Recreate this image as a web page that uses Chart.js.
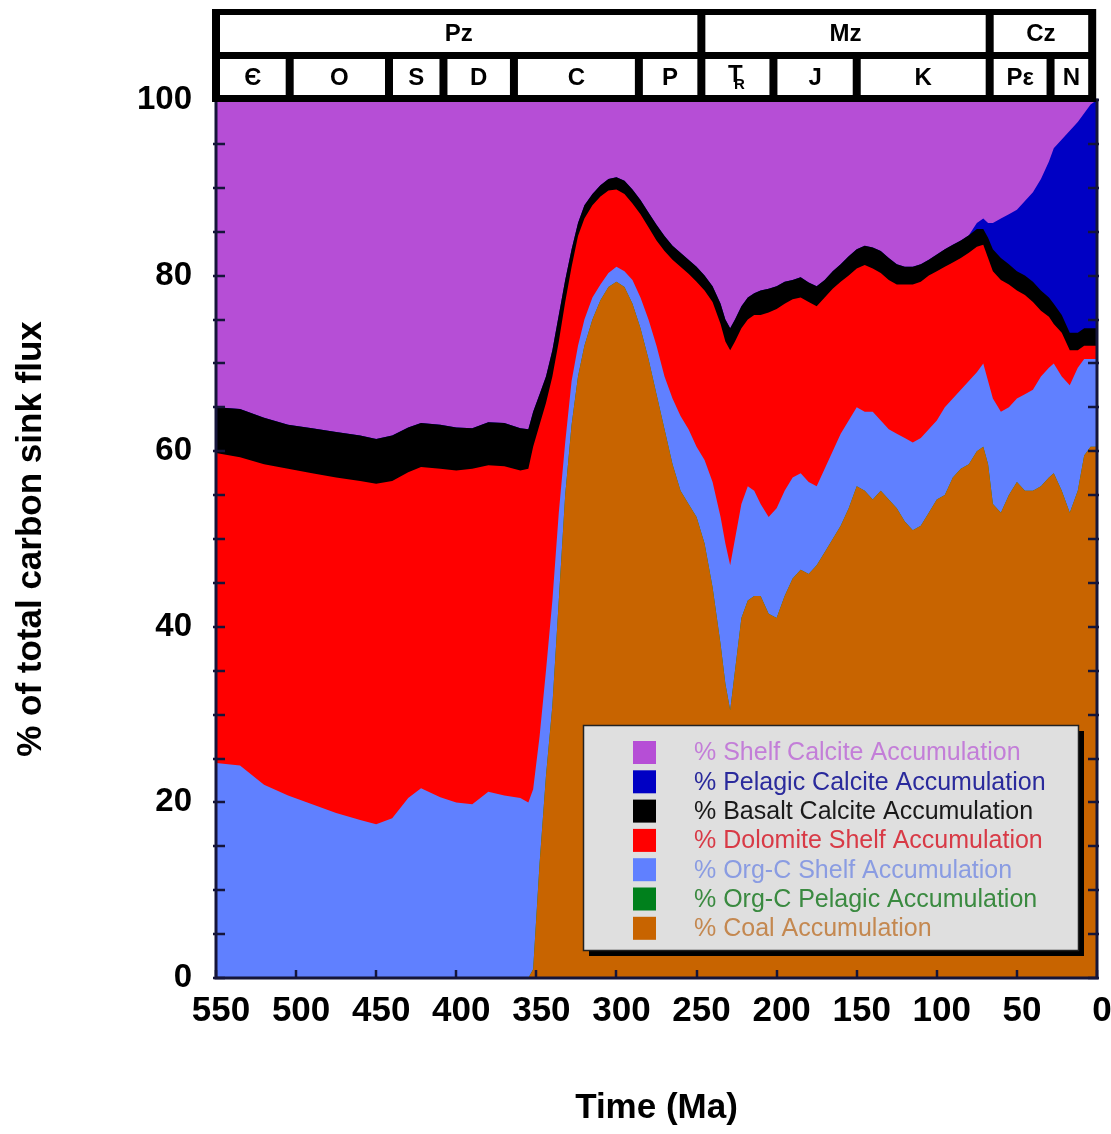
<!DOCTYPE html>
<html>
<head>
<meta charset="utf-8">
<title>Carbon sink flux</title>
<script src="https://cdn.jsdelivr.net/npm/chart.js@4"></script>
<style>
  html, body { margin: 0; padding: 0; background: #fff; }
</style>
</head>
<body>
<canvas id="sinkChart" width="1111" height="1134"></canvas>
<script>
// Time in Ma (old -> young)
const ages = [550, 535, 520, 505, 490, 475, 460, 450, 440, 430, 422, 410, 400, 390, 380, 370, 360, 355,
  352, 348, 344, 340, 336, 332, 328, 324, 320, 315, 310, 305, 300, 295, 290, 285, 280, 275, 270, 265,
  260, 255, 250, 245, 240, 235, 232, 229, 226, 222, 218, 214, 210, 205, 200, 195, 190, 185, 180, 175,
  170, 165, 160, 155, 150, 145, 140, 135, 130, 125, 120, 115, 110, 105, 100, 95, 90, 85, 80, 75, 71,
  68, 65, 60, 55, 50, 45, 40, 35, 30, 27, 22, 17, 12, 8, 4, 0];

// % of total carbon sink flux, per sink (stacked bottom -> top)
const coal = [0, 0, 0, 0, 0, 0, 0, 0, 0, 0, 0, 0, 0, 0, 0, 0, 0, 0,
  1, 13, 23, 31, 43, 55, 63, 68.5, 72, 75, 77.2, 78.7, 79.3, 78.7, 76.8, 74, 70.5, 66.5, 62.5, 58.5,
  55.5, 54, 52.5, 49.5, 44.5, 38, 33.5, 30.5, 35, 41, 43, 43.5, 43.5, 41.5, 41, 43.5, 45.5, 46.5, 46, 47,
  48.5, 50, 51.5, 53.5, 56, 55.5, 54.5, 55.5, 54.5, 53.5, 52, 51, 51.5, 53, 54.5, 55, 57, 58, 58.5, 60, 60.5,
  58.5, 54, 53, 55, 56.5, 55.5, 55.5, 56, 57, 57.5, 55.5, 53, 55.5, 59.5, 60.5, 60.5];

const orgCPelagic = ages.map(() => 0);

const orgCShelf = [24.5, 24.2, 22.0, 20.8, 19.8, 18.8, 18.0, 17.5, 18.2, 20.5, 21.6, 20.6, 20.0, 19.8, 21.2, 20.8, 20.5, 20.0,
  20.5, 14.5, 12, 12, 10, 6, 5, 3.5, 3, 2.5, 1.8, 1.6, 1.7, 1.8, 2.7, 3.5, 4.5, 5.5, 6, 7.5,
  8.5, 8.5, 8, 9.5, 12, 14.5, 16, 16.5, 15, 13, 13, 12, 10.5, 11, 12.5, 12, 11.5, 11, 10.5, 9,
  9.5, 10, 10.5, 10, 9, 9, 10, 8, 8, 8.5, 9.5, 10, 10, 9.5, 9, 10, 9, 9, 9.5, 9, 9.5,
  9.5, 12, 11.5, 10, 9.5, 11, 11.5, 12.5, 12.5, 12.5, 13, 14.5, 14, 11, 10, 10];

const dolomiteShelf = [35.3, 35.1, 36.5, 37.2, 37.7, 38.2, 38.6, 38.8, 38.4, 37.1, 36.6, 37.4, 37.8, 38.2, 37.2, 37.5, 37.3, 38.0,
  39.0, 35.5, 30.5, 25.5, 19.5, 16, 13, 12.5, 11.5, 10.5, 10, 9.4, 8.8, 8.8, 8.7, 9.5, 10.5, 12, 14.3, 15.8,
  17, 17.7, 18.8, 19.3, 20.5, 22, 23, 24.5, 22.5, 20, 19, 20, 21.5, 23.3, 22.7, 21.3, 20.3, 20, 20.5, 20.5,
  19.5, 18.5, 17.3, 16.5, 15.8, 16.7, 16.3, 16.8, 17, 17, 17.5, 18, 17.8, 17.5, 17, 16, 15.5, 15, 14.6, 14.3, 13.5,
  14, 14.5, 15, 14, 12.3, 11.3, 10, 7.5, 5.8, 4.5, 5, 4, 2, 1.5, 1.5, 1.5];

const basaltCalcite = [5.2, 5.5, 5.3, 5.0, 5.1, 5.2, 5.2, 5.1, 5.2, 5.1, 5.0, 5.0, 4.9, 4.6, 4.9, 4.9, 4.8, 4.5,
  4.0, 3.5, 3.0, 3.0, 3.0, 2.5, 2, 1.5, 1.5, 1.3, 1.3, 1.3, 1.4, 1.5, 1.6, 1.6, 1.7, 1.8, 1.7, 1.6,
  1.6, 1.6, 1.7, 1.7, 1.8, 2.3, 2.5, 2.5, 2.5, 2.5, 2.5, 2.5, 2.8, 2.7, 2.6, 2.5, 2.2, 2.3, 2.2, 2.3,
  2, 2, 2, 2.2, 2.2, 2.2, 2.4, 2.5, 2.5, 2.3, 2, 2, 2, 1.8, 1.9, 2, 2, 2, 2, 2, 1.8,
  2.3, 2.5, 2.5, 2.3, 2.2, 2.2, 2.3, 2.3, 2.2, 2.3, 2, 2, 2, 2, 2, 2];

const pelagicCalcite = [0, 0, 0, 0, 0, 0, 0, 0, 0, 0, 0, 0, 0, 0, 0, 0, 0, 0,
  0, 0, 0, 0, 0, 0, 0, 0, 0, 0, 0, 0, 0, 0, 0, 0, 0, 0, 0, 0,
  0, 0, 0, 0, 0, 0, 0, 0, 0, 0, 0, 0, 0, 0, 0, 0, 0, 0, 0, 0,
  0, 0, 0, 0, 0, 0, 0, 0, 0, 0, 0, 0, 0, 0, 0, 0, 0, 0, 0, 0.7, 1.2,
  1.7, 3, 4.5, 5.7, 7, 8.5, 10.2, 12.7, 15.5, 17.7, 20, 23, 24, 24.5, 25.5, 26];

const shelfCalcite = [35.0, 35.2, 36.2, 37.0, 37.4, 37.8, 38.2, 38.6, 38.2, 37.3, 36.8, 37.0, 37.3, 37.4, 36.7, 36.8, 37.4, 37.5,
  35.5, 33.5, 31.5, 28.5, 24.5, 20.5, 17, 14, 12, 10.7, 9.7, 9.0, 8.8, 9.2, 10.2, 11.4, 12.8, 14.2, 15.5, 16.6,
  17.4, 18.2, 19, 20, 21.2, 23.2, 25, 26, 25, 23.5, 22.5, 22, 21.7, 21.5, 21.2, 20.7, 20.5, 20.2, 20.8, 21.2,
  20.5, 19.5, 18.7, 17.8, 17, 16.6, 16.8, 17.2, 18, 18.7, 19, 19, 18.7, 18.2, 17.6, 17, 16.5, 16, 15.4, 14, 13.5,
  14, 14, 13.5, 13, 12.5, 11.5, 10.5, 9, 7, 5.5, 4.5, 3.5, 2.5, 1.5, 0.5, 0];

// Geologic time scale along the top
const eraNames = ['Pz', 'Mz', 'Cz'];
const eraBounds = [550, 247, 67, 3];
const periodNames = ['Є', 'O', 'S', 'D', 'C', 'P', 'TR', 'J', 'K', 'Pε', 'N'];
const periodBounds = [550, 504, 442, 408, 364, 286, 247, 202, 150, 67, 29, 3];

const yLabelTicks = [0, 20, 40, 60, 80, 100];

const pts = arr => ages.map((a, i) => ({ x: a, y: arr[i] }));

function layer(label, data, fillColor, textColor) {
  return {
    label: label,
    data: pts(data),
    backgroundColor: fillColor,
    borderColor: 'rgba(0,0,0,0)',
    borderWidth: 0,
    pointRadius: 0,
    fill: 'origin',
    textColor: textColor
  };
}

// frame + inward ticks
const framePlugin = {
  id: 'frame',
  afterDatasetsDraw(chart) {
    const { ctx, chartArea: a, scales: { x, y } } = chart;
    ctx.save();
    ctx.strokeStyle = '#15153a';
    ctx.lineWidth = 2.5;
    y.ticks.forEach(t => {
      const py = Math.round(y.getPixelForValue(t.value));
      ctx.beginPath();
      ctx.moveTo(a.left - 3, py); ctx.lineTo(a.left + 9, py);
      ctx.moveTo(a.right - 9, py); ctx.lineTo(a.right + 2, py);
      ctx.stroke();
    });
    x.ticks.forEach(t => {
      const px = Math.round(x.getPixelForValue(t.value));
      ctx.beginPath();
      ctx.moveTo(px, a.bottom); ctx.lineTo(px, a.bottom - 8);
      ctx.stroke();
    });
    ctx.lineWidth = 3;
    ctx.strokeRect(a.left, a.top, a.right - a.left, a.bottom - a.top);
    ctx.restore();
  }
};

// boxed legend inside the plot
const legendPlugin = {
  id: 'boxLegend',
  afterDraw(chart) {
    const { ctx, chartArea: a } = chart;
    const left = a.left + 367, top = a.top + 625, w = 495, h = 225;
    ctx.save();
    ctx.fillStyle = '#000';
    ctx.fillRect(left + 6, top + 6, w, h);
    ctx.fillStyle = '#dfdfdf';
    ctx.fillRect(left, top, w, h);
    ctx.strokeStyle = '#222';
    ctx.lineWidth = 1.5;
    ctx.strokeRect(left + 0.5, top + 0.5, w, h);
    ctx.font = '25px "Liberation Sans", Arial, sans-serif';
    ctx.textBaseline = 'middle';
    ctx.textAlign = 'left';
    chart.data.datasets.slice().reverse().forEach((ds, i) => {
      const cy = top + 27.5 + i * 29.3;
      ctx.fillStyle = ds.backgroundColor;
      ctx.fillRect(left + 50, cy - 11.5, 23, 23);
      ctx.fillStyle = ds.textColor;
      ctx.fillText(ds.label, left + 111, cy + 1);
    });
    ctx.restore();
  }
};

// era / period bar above the plot
const timescalePlugin = {
  id: 'timescale',
  afterDraw(chart) {
    const { ctx, chartArea: a, scales: { x } } = chart;
    const px = v => x.getPixelForValue(v);
    ctx.save();
    ctx.fillStyle = '#000';
    ctx.fillRect(px(550) - 4, a.top - 91, px(3) - px(550) + 8, 93);
    ctx.textAlign = 'center';
    ctx.textBaseline = 'middle';
    const rows = [
      { names: eraNames, bounds: eraBounds, top: a.top - 85, h: 37 },
      { names: periodNames, bounds: periodBounds, top: a.top - 41, h: 36 }
    ];
    rows.forEach(r => {
      r.names.forEach((name, i) => {
        const x0 = px(r.bounds[i]) + 4, x1 = px(r.bounds[i + 1]) - 4;
        ctx.fillStyle = '#fff';
        ctx.fillRect(x0, r.top, x1 - x0, r.h);
        ctx.fillStyle = '#000';
        const cx = (x0 + x1) / 2, cy = r.top + r.h / 2 + 1;
        if (name === 'TR') {
          ctx.font = 'bold 24px "Liberation Sans", Arial, sans-serif';
          ctx.fillText('T', cx - 2, cy - 3);
          ctx.font = 'bold 15px "Liberation Sans", Arial, sans-serif';
          ctx.fillText('R', cx + 2, cy + 7);
        } else {
          ctx.font = 'bold 24px "Liberation Sans", Arial, sans-serif';
          ctx.fillText(name, cx, cy);
        }
      });
    });
    ctx.restore();
  }
};

new Chart(document.getElementById('sinkChart'), {
  type: 'line',
  data: {
    datasets: [
      layer('% Coal Accumulation', coal, '#c86400', '#c48850'),
      layer('% Org-C Pelagic Accumulation', orgCPelagic, '#00801c', '#3a8a40'),
      layer('% Org-C Shelf Accumulation', orgCShelf, '#6080ff', '#8a9ce2'),
      layer('% Dolomite Shelf Accumulation', dolomiteShelf, '#ff0000', '#d83a46'),
      layer('% Basalt Calcite Accumulation', basaltCalcite, '#000000', '#1a1a1a'),
      layer('% Pelagic Calcite Accumulation', pelagicCalcite, '#0000c4', '#2a2a9c'),
      layer('% Shelf Calcite Accumulation', shelfCalcite, '#b64ed6', '#c37ed8')
    ]
  },
  options: {
    responsive: false,
    animation: false,
    events: [],
    layout: { padding: { top: 100, right: 14, left: 0, bottom: 0 } },
    plugins: {
      legend: { display: false },
      tooltip: { enabled: false }
    },
    scales: {
      x: {
        type: 'linear',
        min: 0,
        max: 550,
        reverse: true,
        grid: { display: false, drawTicks: false },
        border: { display: false },
        ticks: {
          stepSize: 50,
          autoSkip: false,
          maxRotation: 0,
          padding: 12,
          labelOffset: 5,
          color: '#000',
          font: { family: '"Liberation Sans Narrow", "Liberation Sans", Arial, sans-serif', size: 35, weight: 'bold' }
        },
        title: {
          display: true,
          text: 'Time (Ma)',
          color: '#000',
          padding: { top: 0, bottom: 5 },
          font: { family: '"Liberation Sans", Arial, sans-serif', size: 35, weight: 'bold' }
        },
        afterFit: s => { s.height = 156; s.paddingLeft = 0; s.paddingRight = 0; }
      },
      y: {
        stacked: true,
        min: 0,
        max: 100,
        grid: { display: false, drawTicks: false },
        border: { display: false },
        ticks: {
          stepSize: 5,
          padding: 24,
          color: '#000',
          callback: v => (yLabelTicks.includes(v) ? v : ''),
          font: { family: '"Liberation Sans", Arial, sans-serif', size: 33, weight: 'bold' }
        },
        title: {
          display: true,
          text: '% of total carbon sink flux',
          color: '#000',
          padding: { top: 10, bottom: 0 },
          font: { family: '"Liberation Sans", Arial, sans-serif', size: 35, weight: 'bold' }
        },
        afterFit: s => { s.width = 216; s.paddingTop = 0; s.paddingBottom = 0; }
      }
    }
  },
  plugins: [framePlugin, legendPlugin, timescalePlugin]
});
</script>
</body>
</html>
